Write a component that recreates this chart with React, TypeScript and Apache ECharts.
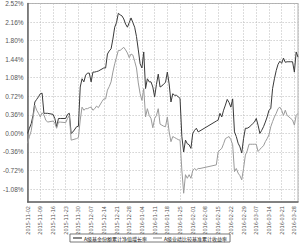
import React, { useEffect, useRef } from "react";
import * as echarts from "echarts";

const startDate = "2015-11-02";
const dates = [
  "2015-11-02","2015-11-03","2015-11-04","2015-11-05","2015-11-06","2015-11-07","2015-11-08","2015-11-09","2015-11-10","2015-11-11",
  "2015-11-12","2015-11-13","2015-11-16","2015-11-17","2015-11-18","2015-11-19","2015-11-20","2015-11-23","2015-11-24","2015-11-25",
  "2015-11-26","2015-11-27","2015-11-29","2015-11-30","2015-12-01","2015-12-02","2015-12-03","2015-12-04","2015-12-05","2015-12-06",
  "2015-12-07","2015-12-08","2015-12-09","2015-12-10","2015-12-11","2015-12-13","2015-12-14","2015-12-15","2015-12-16","2015-12-17",
  "2015-12-18","2015-12-19","2015-12-20","2015-12-21","2015-12-22","2015-12-23","2015-12-24","2015-12-25","2015-12-26","2015-12-27",
  "2015-12-28","2015-12-29","2015-12-30","2015-12-31","2016-01-01","2016-01-02","2016-01-03","2016-01-04","2016-01-05","2016-01-06",
  "2016-01-07","2016-01-08","2016-01-09","2016-01-10","2016-01-11","2016-01-12","2016-01-13","2016-01-14","2016-01-15","2016-01-16",
  "2016-01-17","2016-01-18","2016-01-19","2016-01-20","2016-01-21","2016-01-22","2016-01-23","2016-01-24","2016-01-25","2016-01-26",
  "2016-01-27","2016-01-28","2016-01-29","2016-01-30","2016-01-31","2016-02-01","2016-02-02","2016-02-03","2016-02-04","2016-02-05",
  "2016-02-14","2016-02-15","2016-02-16","2016-02-17","2016-02-18","2016-02-19","2016-02-20","2016-02-21","2016-02-22","2016-02-23",
  "2016-02-24","2016-02-25","2016-02-26","2016-02-27","2016-02-28","2016-02-29","2016-03-01","2016-03-02","2016-03-03","2016-03-04",
  "2016-03-05","2016-03-06","2016-03-07","2016-03-08","2016-03-09","2016-03-10","2016-03-11","2016-03-12","2016-03-13","2016-03-14",
  "2016-03-15","2016-03-16","2016-03-17","2016-03-18","2016-03-19","2016-03-20","2016-03-21","2016-03-22","2016-03-23","2016-03-24",
  "2016-03-25","2016-03-26","2016-03-27","2016-03-28","2016-03-29","2016-03-30"
];

const fundNav = [
  0.00,0.10,0.19,0.35,0.61,0.66,0.71,0.77,0.78,0.39,
  0.39,0.39,0.37,0.29,0.13,0.29,0.29,0.29,0.37,0.39,
  0.00,0.03,0.13,0.14,0.90,1.06,1.00,1.13,1.17,1.17,
  1.00,1.19,1.19,1.20,1.21,1.25,1.27,1.27,1.54,1.60,
  1.64,1.83,2.06,2.15,2.33,2.30,2.28,2.22,2.12,2.06,
  2.15,2.24,2.15,2.06,1.88,1.62,1.35,1.27,1.58,0.87,
  1.06,1.00,1.00,0.90,0.71,0.95,1.15,0.90,0.92,0.96,
  0.99,1.19,0.96,0.61,0.77,0.74,0.74,0.71,0.68,-0.06,
  -0.36,-0.13,-0.20,-0.22,-0.29,0.00,0.06,0.10,0.03,0.05,
  0.24,0.26,0.39,0.32,0.45,0.55,0.66,0.60,0.51,0.67,
  0.03,-0.06,-0.19,-0.26,-0.38,-0.10,0.10,0.10,0.12,0.15,
  0.19,0.22,0.29,0.16,0.00,0.06,0.13,0.22,0.32,0.45,
  0.48,0.87,1.06,1.22,1.34,1.40,1.36,1.46,1.38,1.39,
  1.39,1.39,1.39,1.19,1.58,1.48
];

const benchmark = [
  -0.19,-0.06,0.05,0.30,0.55,0.45,0.39,0.32,0.40,0.36,
  0.26,0.22,0.24,0.20,0.10,0.22,0.22,0.21,0.29,0.35,
  -0.13,-0.12,-0.10,-0.08,0.26,0.51,0.45,0.48,0.48,0.50,
  0.51,0.45,0.48,0.53,0.50,0.62,0.67,0.67,0.84,0.91,
  1.00,1.19,1.35,1.48,1.61,1.61,1.64,1.67,1.62,1.56,
  1.47,1.54,1.52,1.40,1.27,0.98,0.77,0.64,0.87,0.32,
  0.48,0.35,0.29,0.11,0.29,0.35,0.48,0.18,0.16,0.14,
  0.13,0.32,0.03,-0.16,-0.06,-0.08,-0.10,-0.12,-0.13,-0.71,
  -1.16,-0.80,-0.87,-0.80,-0.87,-0.72,-0.68,-0.71,-0.68,-0.68,
  -0.61,-0.36,-0.32,-0.29,-0.20,-0.10,-0.08,-0.06,-0.12,-0.22,
  -0.74,-0.68,-0.77,-0.82,-0.90,-0.68,-0.42,-0.34,-0.21,-0.21,
  -0.21,-0.21,-0.21,-0.35,-0.31,-0.27,-0.24,-0.16,-0.10,-0.03,
  0.13,0.23,0.32,0.39,0.48,0.51,0.45,0.35,0.45,0.35,
  0.32,0.29,0.26,0.16,0.35,0.39
];

const yTicks = [-1.08, -0.72, -0.36, 0, 0.36, 0.72, 1.08, 1.44, 1.8, 2.16, 2.52];
const seriesNames = ["A级基金份额累计净值增长率", "A级业绩比较基准累计收益率"];
const seriesColors = ["#3a3a3a", "#9a9a9a"];

const DAY = 86400000;
const t0 = Date.parse(startDate + "T00:00:00Z");
const dayOf = (d: string) => Math.round((Date.parse(d + "T00:00:00Z") - t0) / DAY);
const dateOf = (n: number) => {
  const dt = new Date(t0 + n * DAY);
  const m = String(dt.getUTCMonth() + 1).padStart(2, "0");
  const d = String(dt.getUTCDate()).padStart(2, "0");
  return `${dt.getUTCFullYear()}-${m}-${d}`;
};

export default function App() {
  const ref = useRef<HTMLDivElement>(null);
  useEffect(() => {
    if (!ref.current) return;
    const chart = echarts.init(ref.current, null, { renderer: "svg" });
    const font = "'Liberation Sans', Arial, sans-serif";
    const narrow = "'Liberation Sans Narrow', 'DejaVu Sans Condensed', 'Liberation Sans', sans-serif";
    const cjk = "'Noto Sans CJK SC', sans-serif";
    const lastDay = dayOf(dates[dates.length - 1]);
    chart.setOption({
      animation: false,
      textStyle: { fontFamily: font },
      grid: {
        left: 26, right: 2, top: 3, bottom: 44,
        show: true, borderColor: "#b0b0b0", borderWidth: 1,
      },
      legend: {
        bottom: 4, left: "center",
        data: seriesNames,
        icon: "rect", itemWidth: 9, itemHeight: 1.2, itemGap: 6,
        padding: [1.5, 3, 1.5, 3],
        borderColor: "#555", borderWidth: 0.8, backgroundColor: "#fff",
        textStyle: { fontSize: 5, color: "#222", fontFamily: cjk, padding: [0, 0, 0, -3] },
      },
      xAxis: {
        type: "value", min: 0, max: lastDay, interval: 7,
        axisLine: { show: true, onZero: false, lineStyle: { color: "#666", width: 1.5 } },
        axisTick: { show: false },
        axisLabel: {
          rotate: 90, fontSize: 5.5, color: "#555", margin: 4, fontFamily: narrow,
          formatter: (v: number) => (v % 7 === 0 ? dateOf(v) : ""),
        },
        splitLine: { show: true, lineStyle: { color: "#bbb", type: [1, 2], width: 1 } },
      },
      yAxis: {
        type: "value", min: -1.33, max: 2.52,
        axisLine: { show: true, onZero: false, lineStyle: { color: "#666", width: 1.5 } },
        axisTick: { show: false, customValues: yTicks },
        axisLabel: {
          customValues: yTicks, fontSize: 6.5, color: "#555", margin: 4, fontFamily: font,
          formatter: (v: number) => v.toFixed(2) + "%",
        },
        splitLine: { show: true, lineStyle: { color: "#bbb", type: [1, 2], width: 1 } },
      },
      series: [
        {
          name: seriesNames[0], type: "line", symbol: "none",
          lineStyle: { color: seriesColors[0], width: 1 }, itemStyle: { color: seriesColors[0] },
          data: dates.map((d, i) => [dayOf(d), fundNav[i]]),
        },
        {
          name: seriesNames[1], type: "line", symbol: "none",
          lineStyle: { color: seriesColors[1], width: 1 }, itemStyle: { color: seriesColors[1] },
          data: dates.map((d, i) => [dayOf(d), benchmark[i]]),
        },
      ],
    });
    return () => chart.dispose();
  }, []);
  return (
    <div
      ref={ref}
      style={{ position: "absolute", left: 0, top: 0, width: 300, height: 246, background: "#fff" }}
    />
  );
}
